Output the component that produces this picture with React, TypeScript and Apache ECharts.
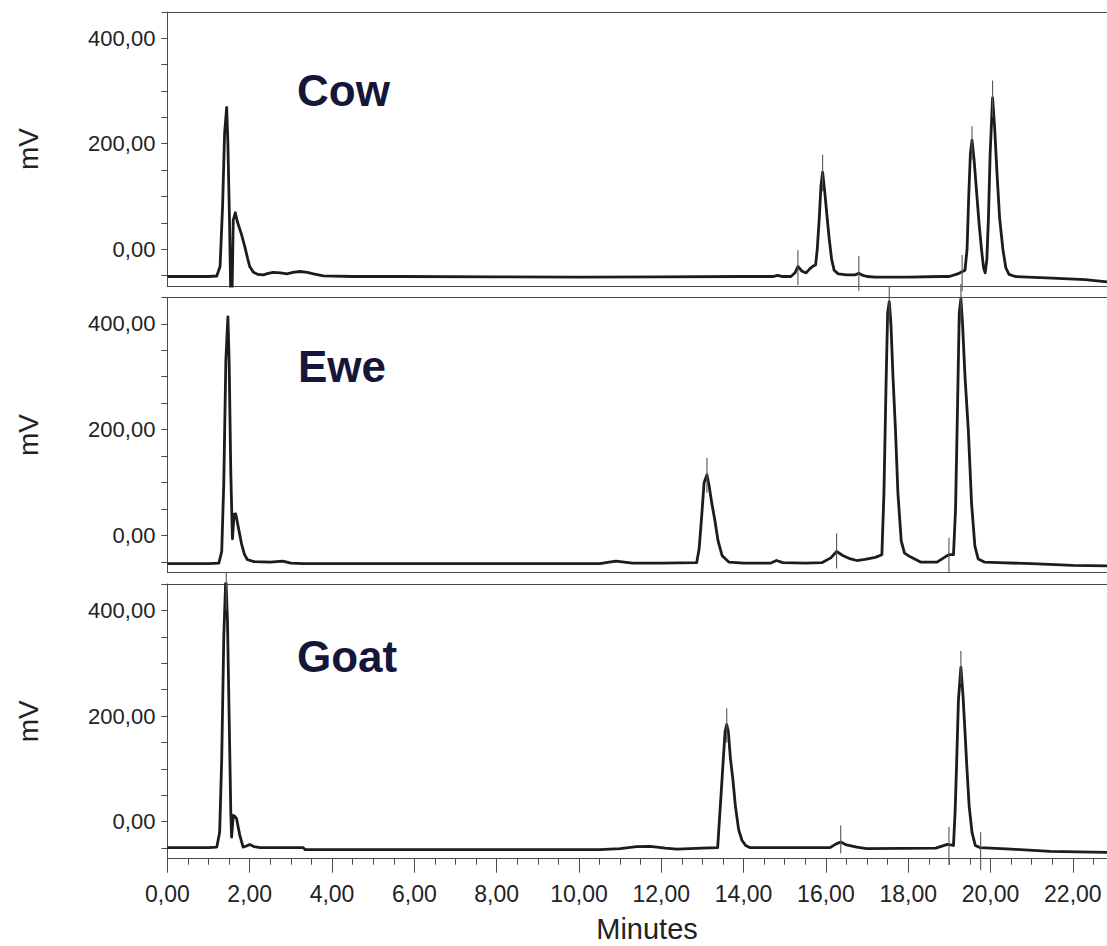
import React, { useEffect, useRef } from 'react';
import * as echarts from 'echarts';

// ---- Data (time in minutes, signal in mV) ----
const sampleNames = ['Cow', 'Ewe', 'Goat'];

const cowTrace: [number, number][] = [
  [0, -52], [1.0, -52], [1.2, -51], [1.28, -33], [1.34, 80], [1.39, 220], [1.44, 269], [1.47, 200],
  [1.51, 50], [1.54, -90], [1.57, -90], [1.6, 55], [1.65, 69], [1.7, 52], [1.8, 28], [1.89, 2],
  [1.95, -18], [2.0, -33], [2.09, -44], [2.2, -48], [2.33, -49], [2.45, -46], [2.57, -44], [2.75, -45],
  [2.9, -47], [3.05, -44], [3.22, -42.5], [3.4, -44], [3.55, -47], [3.79, -50.6], [4.5, -52],
  [5.65, -52], [8, -52.5], [10, -53], [12, -52.5], [14, -52], [14.7, -52], [14.83, -50], [14.95, -52],
  [15.15, -52], [15.25, -45], [15.32, -33], [15.42, -42], [15.52, -45], [15.6, -38], [15.69, -32],
  [15.75, -30], [15.79, 0], [15.84, 60], [15.88, 120], [15.92, 146], [15.97, 110], [16.03, 60],
  [16.08, 20], [16.14, -20], [16.2, -40], [16.3, -47], [16.5, -49], [16.7, -49], [16.8, -46],
  [16.9, -50], [17.0, -52], [17.2, -53], [18.0, -53], [18.8, -52], [19.0, -52], [19.2, -47],
  [19.38, -40], [19.43, 0], [19.47, 100], [19.51, 180], [19.55, 207], [19.6, 170], [19.66, 110],
  [19.72, 50], [19.78, 0], [19.83, -35], [19.87, -45], [19.91, -20], [19.95, 60], [19.99, 180],
  [20.05, 287], [20.1, 230], [20.16, 140], [20.22, 60], [20.3, 0], [20.37, -35], [20.45, -48],
  [20.6, -52], [21.5, -55], [22.3, -58], [22.83, -62],
];

const eweTrace: [number, number][] = [
  [0, -53], [1.0, -53], [1.25, -52], [1.32, -30], [1.37, 100], [1.42, 330], [1.47, 413], [1.5, 330],
  [1.54, 120], [1.58, -6], [1.62, 40], [1.66, 41], [1.72, 17], [1.8, -15], [1.87, -35], [1.94, -45],
  [2.1, -49], [2.5, -50], [2.8, -48], [3.0, -52], [3.3, -53], [6, -53], [10.5, -53], [10.9, -48],
  [11.3, -52], [12.0, -52], [12.86, -51], [12.92, -25], [12.98, 35], [13.04, 100], [13.11, 115],
  [13.16, 95], [13.23, 60], [13.3, 30], [13.38, -10], [13.48, -38], [13.64, -50], [14.0, -52],
  [14.65, -52], [14.8, -47], [14.95, -51], [15.5, -52], [15.9, -51], [16.12, -42], [16.26, -30],
  [16.42, -38], [16.6, -44], [16.75, -47], [16.95, -45], [17.2, -41], [17.36, -36], [17.41, 80],
  [17.46, 280], [17.5, 420], [17.54, 442], [17.58, 400], [17.63, 300], [17.69, 200], [17.75, 80],
  [17.83, -10], [17.91, -33], [18.05, -40], [18.3, -50], [18.7, -50], [18.9, -40], [18.99, -36],
  [19.1, -36], [19.15, 50], [19.2, 250], [19.24, 420], [19.28, 447], [19.32, 400], [19.38, 300],
  [19.46, 200], [19.54, 60], [19.62, -20], [19.7, -44], [19.85, -50], [20.2, -51], [21, -53],
  [22, -56], [22.83, -57],
];

const goatTrace: [number, number][] = [
  [0, -49], [1.0, -49], [1.2, -48], [1.27, -20], [1.32, 120], [1.37, 350], [1.42, 465], [1.46, 380],
  [1.5, 200], [1.54, 20], [1.56, -29], [1.6, 12], [1.64, 10], [1.68, 6], [1.72, -10], [1.76, -26],
  [1.84, -48], [1.92, -46], [2.0, -43], [2.1, -47], [2.25, -49], [3.3, -49], [3.35, -53], [6, -53],
  [10.51, -53], [11.0, -51], [11.4, -47], [11.73, -46.5], [12.1, -50], [12.38, -52], [13.0, -50],
  [13.37, -49], [13.41, 0], [13.46, 60], [13.5, 110], [13.55, 170], [13.59, 184], [13.63, 170],
  [13.68, 120], [13.74, 80], [13.8, 30], [13.88, -15], [13.96, -35], [14.05, -45], [14.15, -49],
  [16.1, -49], [16.25, -42], [16.36, -38.5], [16.5, -44], [16.75, -48], [16.99, -51], [18.67, -50],
  [18.95, -43], [19.1, -45], [19.14, 20], [19.18, 120], [19.22, 230], [19.28, 292], [19.33, 240],
  [19.38, 170], [19.42, 110], [19.48, 30], [19.55, -20], [19.63, -45], [19.75, -49], [20.5, -52],
  [21.45, -56], [22.83, -58],
];

// integration markers: [time, low mV, high mV]
const cowMarkers: [number, number, number][] = [
  [15.32, -68, -2], [15.92, 110, 179], [16.8, -79, -13], [19.31, -80, -11], [19.55, 170, 233], [20.05, 250, 320],
];
const eweMarkers: [number, number, number][] = [
  [13.11, 81, 147], [16.26, -62, 4], [17.54, 400, 470], [18.99, -70, -4], [19.28, 400, 475],
];
const goatMarkers: [number, number, number][] = [
  [1.43, 400, 472], [13.59, 150, 215], [16.36, -60, -7], [18.99, -82, -10], [19.28, 260, 323], [19.76, -92, -20],
];

const xMajorTicks = [0, 2, 4, 6, 8, 10, 12, 14, 16, 18, 20, 22];
const xMinorTicks = [0.5, 1, 1.5, 2.5, 3, 3.5, 4.5, 5, 5.5, 6.5, 7, 7.5, 8.5, 9, 9.5, 10.5, 11, 11.5,
  12.5, 13, 13.5, 14.5, 15, 15.5, 16.5, 17, 17.5, 18.5, 19, 19.5, 20.5, 21, 21.5, 22.5];
const yTickValues = [-50, 0, 50, 100, 150, 200, 250, 300, 350, 400, 450];
const yLabelValues = [0, 200, 400];
const xMax = 22.83;

const traces = [cowTrace, eweTrace, goatTrace];
const markers = [cowMarkers, eweMarkers, goatMarkers];

const fmt = (v: number) => v.toFixed(2).replace('.', ',');
const FONT = '"Liberation Sans", Arial, Helvetica, sans-serif';

export default function App() {
  const ref = useRef<HTMLDivElement>(null);
  useEffect(() => {
    if (!ref.current) return;
    const chart = echarts.init(ref.current, null, { renderer: 'svg' });
    const tops = [12, 297.3, 584];
    const heights = [274, 275.4, 274.7];
    const axisColor = '#4a4a4a';

    const grid = tops.map((t, i) => ({ left: 167.4, right: 0, top: t, height: heights[i] }));
    const xAxis: any[] = [];
    const yAxis: any[] = [];
    const series: any[] = [];
    const graphic: any[] = [];

    tops.forEach((t, i) => {
      const isLast = i === 2;
      // main bottom axis (index 3*i)
      xAxis.push({
        type: 'value', gridIndex: i, position: 'bottom', min: 0, max: xMax,
        splitLine: { show: false },
        axisLine: { show: true, onZero: false, lineStyle: { color: axisColor, width: 1 } },
        axisTick: { show: isLast, length: 14, customValues: xMajorTicks, lineStyle: { color: axisColor, width: 1 } },
        axisLabel: {
          show: isLast, margin: 24, fontSize: 23, color: '#222', fontFamily: FONT,
          customValues: xMajorTicks, formatter: (v: number) => fmt(v),
        },
      });
      // top border axis (index 3*i+1)
      xAxis.push({
        type: 'value', gridIndex: i, position: 'top', min: 0, max: xMax,
        splitLine: { show: false },
        axisLine: { show: true, onZero: false, lineStyle: { color: axisColor, width: 1 } },
        axisTick: { show: false }, axisLabel: { show: false },
      });
      // minor ticks axis (index 3*i+2)
      xAxis.push({
        type: 'value', gridIndex: i, position: 'bottom', offset: 0, min: 0, max: xMax,
        splitLine: { show: false },
        axisLine: { show: false, onZero: false },
        axisTick: { show: isLast, length: 6, customValues: xMinorTicks, lineStyle: { color: axisColor, width: 1 } },
        axisLabel: { show: false },
      });
      yAxis.push({
        type: 'value', gridIndex: i, min: -70, max: 450,
        splitLine: { show: false },
        axisLine: { show: true, onZero: false, lineStyle: { color: axisColor, width: 1 } },
        axisTick: { show: true, length: 6, customValues: yTickValues, lineStyle: { color: axisColor, width: 1 } },
        axisLabel: {
          show: true, margin: 12, fontSize: 22, color: '#222', fontFamily: FONT,
          customValues: yLabelValues, formatter: (v: number) => fmt(v),
        },
      });
      series.push({
        type: 'line', xAxisIndex: 3 * i, yAxisIndex: i, data: traces[i],
        showSymbol: false, symbol: 'none', clip: true, silent: true, z: 3,
        lineStyle: { color: '#1c1c1c', width: 2.8, join: 'round' },
      });
      series.push({
        type: 'custom', xAxisIndex: 3 * i, yAxisIndex: i, data: markers[i], clip: false, silent: true, z: 4,
        encode: { x: 0, y: [1, 2] },
        renderItem: (_p: any, api: any) => {
          const a = api.coord([api.value(0), api.value(1)]);
          const b = api.coord([api.value(0), api.value(2)]);
          return {
            type: 'line',
            shape: { x1: a[0], y1: a[1], x2: b[0], y2: b[1] },
            style: { stroke: '#555555', lineWidth: 1.1 },
          };
        },
      });
      graphic.push({
        type: 'text', x: 28, y: t + heights[i] / 2, rotation: Math.PI / 2,
        style: { text: 'mV', fontSize: 28, fontFamily: FONT, fill: '#222', align: 'center', verticalAlign: 'middle' },
      });
    });

    const titlePos = [[297, 90], [298, 366], [297, 656]];
    sampleNames.forEach((name, i) => {
      graphic.push({
        type: 'text', x: titlePos[i][0], y: titlePos[i][1],
        style: { text: name, fontSize: 44, fontWeight: 'bold', fontFamily: FONT, fill: '#16163a', align: 'left', verticalAlign: 'middle' },
      });
    });
    graphic.push({
      type: 'text', x: 647, y: 929,
      style: { text: 'Minutes', fontSize: 29, fontFamily: FONT, fill: '#222', align: 'center', verticalAlign: 'middle' },
    });

    chart.setOption({
      animation: false,
      backgroundColor: '#ffffff',
      grid, xAxis, yAxis, series, graphic,
    });
    return () => chart.dispose();
  }, []);
  return <div ref={ref} style={{ position: 'fixed', left: 0, top: 0, width: 1107, height: 946 }} />;
}
